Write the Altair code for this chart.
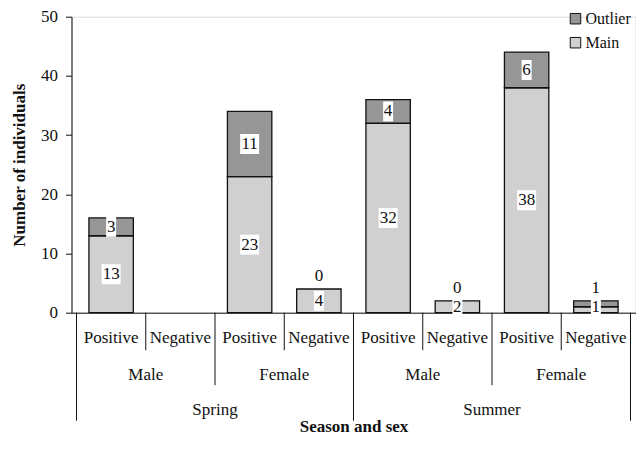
import altair as alt
import pandas as pd

# ---- data ----
seasons = ["Spring", "Summer"]
sexes = ["Male", "Female"]
statuses = ["Positive", "Negative"]
main_counts = [13, None, 23, 4, 32, 2, 38, 1]
outlier_counts = [3, None, 11, 0, 4, 0, 6, 1]
series_names = ["Outlier", "Main"]
series_colors = ["#969696", "#d0d0d0"]
y_ticks = [0, 10, 20, 30, 40, 50]

FONT = "Liberation Serif"
INK = "#111111"
W, H = 564, 296

# ---- tables built from the arrays ----
cats = []
i = 0
for s in seasons:
    for sx in sexes:
        for st in statuses:
            cats.append(dict(season=s, sex=sx, status=st, pos=i + 0.5,
                             main=main_counts[i], outlier=outlier_counts[i]))
            i += 1

bar_rows, box_rows, above_rows = [], [], []
for c in cats:
    if c["main"] is None:
        continue
    m, o = c["main"], c["outlier"]
    bar_rows.append(dict(pos=c["pos"], series="Main", lo=0, hi=m))
    if o > 0:
        bar_rows.append(dict(pos=c["pos"], series="Outlier", lo=m, hi=m + o))
    box_rows.append(dict(pos=c["pos"], ly=max(m / 2, 1), txt=str(m)))
    if o >= 2:
        box_rows.append(dict(pos=c["pos"], ly=m + o / 2, txt=str(o)))
    else:
        above_rows.append(dict(pos=c["pos"], ly=m + o, txt=str(o)))

for r in box_rows:
    a = 0.95 if len(r["txt"]) > 1 else 0.5
    r["box"] = f"M{-a},-1L{a},-1L{a},1L{-a},1Z"

bars = pd.DataFrame(bar_rows)
boxes = pd.DataFrame(box_rows)
above = pd.DataFrame(above_rows)

status_lab = pd.DataFrame([dict(pos=c["pos"], txt=c["status"]) for c in cats])
sex_lab = pd.DataFrame([dict(pos=2 * k + 1, txt=sexes[k % 2]) for k in range(4)])
season_lab = pd.DataFrame([dict(pos=4 * k + 2, txt=seasons[k]) for k in range(2)])
sep_short = pd.DataFrame(dict(pos=[1, 3, 5, 7]))
sep_mid = pd.DataFrame(dict(pos=[2, 6]))
sep_long = pd.DataFrame(dict(pos=[0, 4, 8]))

# ---- shared scales / axes ----
xscale = alt.Scale(domain=[0, 8], nice=False, zero=False)
xaxis = alt.Axis(labels=False, ticks=False, grid=False, domainColor=INK,
                 domainWidth=1, title="Season and sex", titleFont=FONT,
                 titleFontSize=17, titleFontWeight="bold", titleColor=INK,
                 titleX=W / 2, titleY=114, titleBaseline="middle",
                 titleAlign="center")
yscale = alt.Scale(domain=[0, 50], nice=False)
yaxis = alt.Axis(values=y_ticks, grid=False, title="Number of individuals",
                 titleFont=FONT, titleFontSize=17, titleFontWeight="bold",
                 titleColor=INK, labelFont=FONT, labelFontSize=17,
                 labelColor=INK, tickSize=6, tickColor=INK, domainColor=INK,
                 labelPadding=8, titleX=-52, titleY=H / 2,
                 titleBaseline="middle", titleAlign="center", titleAngle=270)


def X():
    return alt.X("pos:Q", scale=xscale, axis=xaxis)


def Y(field):
    return alt.Y(f"{field}:Q", scale=yscale, axis=yaxis)


bar_layer = alt.Chart(bars).mark_bar(size=44.4, stroke=INK, strokeWidth=1.3).encode(
    x=X(), y=Y("lo"), y2="hi:Q",
    fill=alt.Fill("series:N",
                  scale=alt.Scale(domain=series_names, range=series_colors),
                  legend=alt.Legend(orient="none", legendX=496, legendY=-6,
                                    title=None, symbolType="square",
                                    symbolSize=110, symbolStrokeColor=INK,
                                    symbolStrokeWidth=1, symbolOpacity=1,
                                    labelFont=FONT, labelFontSize=16,
                                    labelColor=INK, rowPadding=8,
                                    labelOffset=2, padding=0)),
)

box_layer = alt.Chart(boxes).mark_point(filled=True, fill="white", opacity=1,
                                        strokeWidth=0, size=400).encode(
    x=X(), y=Y("ly"), shape=alt.Shape("box:N", scale=None),
)

box_text = alt.Chart(boxes).mark_text(font=FONT, fontSize=17, color=INK,
                                      baseline="middle").encode(
    x=X(), y=Y("ly"), text="txt:N",
)

above_text = alt.Chart(above).mark_text(font=FONT, fontSize=17, color=INK,
                                        baseline="middle", dy=-13).encode(
    x=X(), y=Y("ly"), text="txt:N",
)


def row_text(df, ypx):
    return alt.Chart(df).mark_text(font=FONT, fontSize=17, color=INK,
                                   baseline="middle").encode(
        x=X(), y=alt.value(ypx), text="txt:N")


def seps(df, y2px):
    return alt.Chart(df).mark_rule(color=INK, strokeWidth=1).encode(
        x=X(), y=alt.value(H), y2=alt.value(y2px))


chart = alt.layer(
    bar_layer, box_layer, box_text, above_text,
    row_text(status_lab, 321.5), row_text(sex_lab, 358.5),
    row_text(season_lab, 393.5),
    seps(sep_short, 333.5), seps(sep_mid, 368.5), seps(sep_long, 404),
).properties(
    width=W, height=H,
    autosize=alt.AutoSizeParams(type="none"),
    padding={"left": 63.5, "top": 8.7, "right": 0.5, "bottom": 123},
).configure_view(stroke=None).configure(background="white")

chart.save("out.html", embed_options={"renderer": "svg", "actions": False})
